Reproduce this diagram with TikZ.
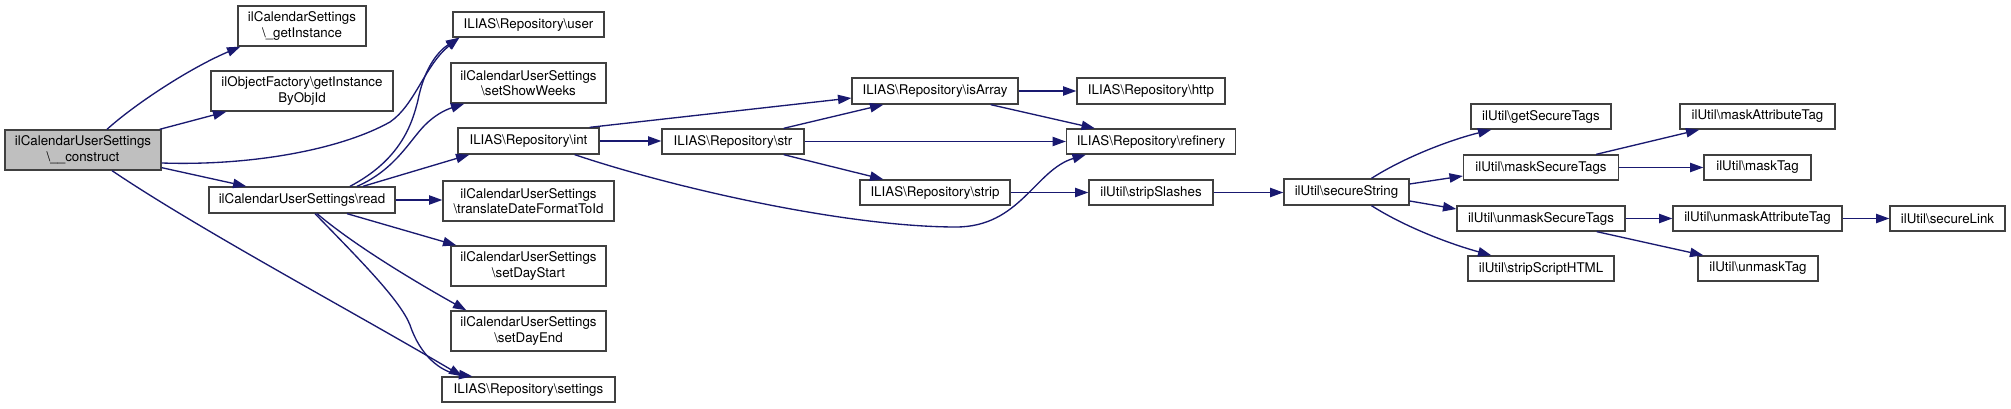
\documentclass[tikz,border=0pt]{standalone}
\usepackage{fontspec}
\setmainfont{TeX Gyre Heros}
\usetikzlibrary{arrows.meta,calc}
\definecolor{edgeblue}{HTML}{191970}
\definecolor{boxline}{HTML}{404040}
\definecolor{rootfill}{HTML}{BFBFBF}
\newcommand{\BSx}{\textbackslash}
\tikzset{
  fn/.style={draw=boxline, line width=1pt, fill=white, inner sep=0pt, align=center,
    font=\fontsize{10}{11.75}\selectfont, minimum height=18.75pt},
  two/.style={minimum height=30pt},
  bw/.style={minimum width=#1*0.75pt},
  root/.style={fill=rootfill},
  call/.style={draw=edgeblue, line width=1pt, -{Triangle[length=10pt,width=7pt]}}
}
\begin{document}
\begin{tikzpicture}[x=0.75pt,y=-0.75pt]
\fill[white] (0,0) rectangle (2011,409);
\useasboundingbox (0,0) rectangle (2011,409);

% nodes
\node[fn,two,root,bw=156] (construct) at (83,150) {ilCalendarUserSettings\\\BSx\_\_construct};
\node[fn,two,bw=128] (getinst) at (302,26) {ilCalendarSettings\\\BSx\_getInstance};
\node[fn,two,bw=182] (objfac) at (302,91) {ilObjectFactory\BSx getInstance\\ByObjId};
\node[fn,bw=186,minimum height=19.5pt] (read) at (302,200) {ilCalendarUserSettings\BSx read};

\node[fn,bw=151] (user) at (528.5,24.5) {ILIAS\BSx Repository\BSx user};
\node[fn,two,bw=155] (showweeks) at (528.5,83) {ilCalendarUserSettings\\\BSx setShowWeeks};
\node[fn,bw=141,minimum height=19.5pt] (int) at (528.5,141) {ILIAS\BSx Repository\BSx int};
\node[fn,two,bw=171] (translate) at (528.5,201) {ilCalendarUserSettings\\\BSx translateDateFormatToId};
\node[fn,two,bw=155] (daystart) at (528.5,266) {ilCalendarUserSettings\\\BSx setDayStart};
\node[fn,two,bw=155] (dayend) at (528.5,331) {ilCalendarUserSettings\\\BSx setDayEnd};
\node[fn,bw=173] (settings) at (528.5,389.5) {ILIAS\BSx Repository\BSx settings};

\node[fn,bw=142] (str) at (733,141.5) {ILIAS\BSx Repository\BSx str};
\node[fn,bw=166,minimum height=19.5pt] (isarray) at (935,91) {ILIAS\BSx Repository\BSx isArray};
\node[fn,bw=150] (strip) at (935,192.5) {ILIAS\BSx Repository\BSx strip};
\node[fn,bw=148,minimum height=19.5pt] (http) at (1151,91) {ILIAS\BSx Repository\BSx http};
\node[fn,bw=169] (refinery) at (1151,141.5) {ILIAS\BSx Repository\BSx refinery};
\node[fn,bw=124] (slashes) at (1151,192.5) {ilUtil\BSx stripSlashes};

\node[fn,bw=125,minimum height=19.5pt] (securestr) at (1346.5,192) {ilUtil\BSx secureString};
\node[fn,bw=140] (getsec) at (1541,116.5) {ilUtil\BSx getSecureTags};
\node[fn,bw=155] (masksec) at (1541,167.5) {ilUtil\BSx maskSecureTags};
\node[fn,bw=168] (unmasksec) at (1541,218.5) {ilUtil\BSx unmaskSecureTags};
\node[fn,bw=146] (stripscript) at (1541,268.5) {ilUtil\BSx stripScriptHTML};
\node[fn,bw=155] (maskattr) at (1757.5,116.5) {ilUtil\BSx maskAttributeTag};
\node[fn,bw=107] (masktag) at (1757.5,167.5) {ilUtil\BSx maskTag};
\node[fn,bw=169] (unmaskattr) at (1757.5,218.5) {ilUtil\BSx unmaskAttributeTag};
\node[fn,bw=120] (unmasktag) at (1758,268.5) {ilUtil\BSx unmaskTag};
\node[fn,bw=115] (securelink) at (1947.5,218.5) {ilUtil\BSx secureLink};

% edges from construct
\draw[call] ($(construct.north)+(24,0)$) .. controls (135,104) and (190,68) .. ($(getinst.south west)+(3,0)$);
\draw[call] ($(construct.north east)+(-2,0)$) -- ($(objfac.south west)+(16,0)$);
\draw[call] ($(construct.east)+(0,13)$) .. controls (250,166) and (340,150) .. (390,122) .. controls (415,105) and (425,65) .. ($(user.south west)+(7,0)$);
\draw[call] ($(construct.south east)+(0,-3)$) -- ($(read.north west)+(38,0)$);
\draw[call] ($(construct.south)+(29,0)$) .. controls (200,230) and (350,310) .. ($(settings.north west)+(21,0)$);

% edges from read
\draw[call] ($(read.north)+(48,0)$) .. controls (400,160) and (412,125) .. (418,100) .. controls (425,65) and (440,50) .. ($(user.south west)+(7,0)$);
\draw[call] ($(read.north)+(55,0)$) .. controls (395,170) and (410,140) .. (425,125) .. controls (435,115) and (445,110) .. ($(showweeks.south west)+(14,0)$);
\draw[call] ($(read.north)+(61,0)$) -- ($(int.south west)+(12,0)$);
\draw[call] (read.east) -- (read.east -| translate.west);
\draw[call] ($(read.south)+(45,0)$) -- ($(daystart.north west)+(6,0)$);
\draw[call] ($(read.south)+(15,0)$) .. controls (360,250) and (430,290) .. ($(dayend.north west)+(16,0)$);
\draw[call] ($(read.south)+(13,0)$) .. controls (360,260) and (400,300) .. (410,325) .. controls (420,355) and (440,372) .. ($(settings.north west)+(31,0)$);

% edges from int / str
\draw[call] ($(int.north east)+(-10,0)$) -- ($(isarray.west)+(0,7)$);
\draw[call] (int.east) -- (int.east -| str.west);
\draw[call] ($(int.south east)+(-25,0)$) .. controls (680,190) and (850,227) .. (956,227) .. controls (1020,227) and (1035,170) .. ($(refinery.south west)+(20,0)$);
\draw[call] ($(str.north east)+(-21,0)$) -- ($(isarray.south west)+(32,0)$);
\draw[call] (str.east) -- (str.east -| refinery.west);
\draw[call] ($(str.south east)+(-21,0)$) -- ($(strip.north west)+(24,0)$);
\draw[call] (isarray.east) -- (isarray.east -| http.west);
\draw[call] ($(isarray.south east)+(-28,0)$) -- ($(refinery.north west)+(29,0)$);
\draw[call] (strip.east) -- (strip.east -| slashes.west);
\draw[call] (slashes.east) -- (slashes.east -| securestr.west);

% edges from secureString
\draw[call] ($(securestr.north)+(25,0)$) .. controls (1405,157) and (1450,140) .. ($(getsec.south west)+(21,0)$);
\draw[call] ($(securestr.east)+(0,-8)$) -- ($(masksec.west)+(0,8.5)$);
\draw[call] ($(securestr.east)+(0,9)$) -- ($(unmasksec.west)+(0,-9.5)$);
\draw[call] ($(securestr.south)+(25,0)$) .. controls (1405,227) and (1450,244) .. ($(stripscript.north west)+(24,0)$);
\draw[call] ($(masksec.north east)+(-23,0)$) -- ($(maskattr.south west)+(20,0)$);
\draw[call] (masksec.east) -- (masksec.east -| masktag.west);
\draw[call] (unmasksec.east) -- (unmasksec.east -| unmaskattr.west);
\draw[call] ($(unmasksec.south east)+(-29,0)$) -- ($(unmasktag.north west)+(6,0)$);
\draw[call] (unmaskattr.east) -- (unmaskattr.east -| securelink.west);
\end{tikzpicture}
\end{document}
